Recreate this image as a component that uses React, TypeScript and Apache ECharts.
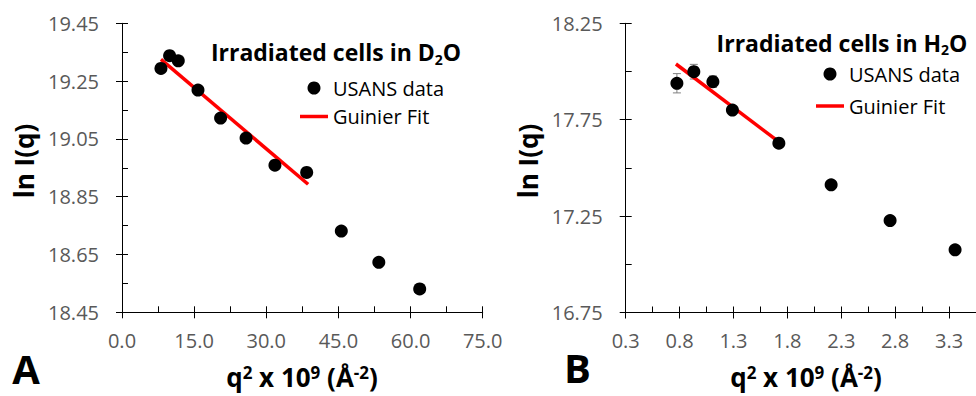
import React, { useEffect, useRef } from "react";
import * as echarts from "echarts";

// Panel A — irradiated cells in D2O
const xA = [8.1, 9.9, 11.7, 15.8, 20.5, 25.8, 31.8, 38.4, 45.6, 53.4, 61.9];
const yA = [19.294, 19.338, 19.32, 19.219, 19.122, 19.053, 18.959, 18.934, 18.731, 18.623, 18.531];
const fitXA = [8.1, 38.7];
const fitYA = [19.325, 18.893];

// Panel B — irradiated cells in H2O
const xB = [0.775, 0.932, 1.109, 1.29, 1.721, 2.206, 2.753, 3.356];
const yB = [17.939, 17.999, 17.947, 17.8, 17.628, 17.412, 17.227, 17.075];
const errB = [0.05, 0.038, 0.03, 0.02, 0.02, 0.02, 0.02, 0.02];
const fitXB = [0.766, 1.688];
const fitYB = [18.039, 17.649];

// Axis ticks and labels
const xLabelsA = [0, 15, 30, 45, 60, 75];
const xTicksA = [0, 7.5, 15, 22.5, 30, 37.5, 45, 52.5, 60, 67.5, 75];
const yLabelsA = [18.45, 18.65, 18.85, 19.05, 19.25, 19.45];
const yTicksA = [18.45, 18.55, 18.65, 18.75, 18.85, 18.95, 19.05, 19.15, 19.25, 19.35, 19.45];
const xLabelsB = [0.3, 0.8, 1.3, 1.8, 2.3, 2.8, 3.3];
const xTicksB = [0.3, 0.55, 0.8, 1.05, 1.3, 1.55, 1.8, 2.05, 2.3, 2.55, 2.8, 3.05, 3.3, 3.55];
const yLabelsB = [16.75, 17.25, 17.75, 18.25];
const yTicksB = [16.75, 17.0, 17.25, 17.5, 17.75, 18.0, 18.25];

const FONT = '"Open Sans", "DejaVu Sans", sans-serif';

function mainAxis(gridIndex: number, min: number, max: number, labels: number[], digits: number, position: string, margin: number) {
  return {
    type: "value",
    gridIndex,
    min,
    max,
    position,
    axisLine: { show: true, onZero: false, lineStyle: { color: "#000", width: 1 } },
    axisTick: { show: true, inside: false, length: 6, customValues: labels, lineStyle: { color: "#000", width: 1 } },
    axisLabel: {
      show: true,
      customValues: labels,
      formatter: (v: number) => v.toFixed(digits),
      margin,
      color: "#595959",
      fontSize: 20,
      fontFamily: FONT,
    },
    splitLine: { show: false },
  };
}

function tickAxis(gridIndex: number, min: number, max: number, ticks: number[], position: string) {
  return {
    type: "value",
    gridIndex,
    min,
    max,
    position,
    axisLine: { show: false, onZero: false },
    axisTick: { show: true, inside: true, length: 6, customValues: ticks, lineStyle: { color: "#000", width: 1 } },
    axisLabel: { show: false },
    splitLine: { show: false },
  };
}

const legendBase = {
  orient: "vertical",
  itemWidth: 28,
  itemHeight: 13,
  padding: 0,
  selectedMode: false,
  textStyle: { fontSize: 20, color: "#000", fontFamily: FONT },
  data: [
    { name: "USANS data", icon: "circle" },
    { name: "Guinier Fit", icon: "path://M0,0L28,0L28,3.5L0,3.5Z" },
  ],
};

const titleRich = {
  b: { fontSize: 23, fontWeight: "bold", fontFamily: FONT, color: "#000", lineHeight: 28, verticalAlign: "middle" },
  s: { fontSize: 14, fontWeight: "bold", fontFamily: FONT, color: "#000", lineHeight: 8, verticalAlign: "bottom" },
};
const axisTitleRich = {
  b: { fontSize: 26, fontWeight: "bold", fontFamily: FONT, color: "#000", lineHeight: 26, verticalAlign: "middle" },
  p: { fontSize: 17, fontWeight: "bold", fontFamily: FONT, color: "#000", lineHeight: 10, verticalAlign: "top" },
};
const xTitle = "{b|q}{p|2}{b| x 10}{p|9}{b| (Å}{p|-2}{b|)}";

export default function App() {
  const ref = useRef<HTMLDivElement>(null);
  useEffect(() => {
    if (!ref.current) return;
    const chart = echarts.init(ref.current, null, { renderer: "svg" });
    const scatterStyle = { color: "#000", opacity: 1 };
    const option: any = {
      animation: false,
      backgroundColor: "#fff",
      textStyle: { fontFamily: FONT },
      grid: [
        { left: 122, top: 23.3, width: 360.7, height: 289 },
        { left: 625.7, top: 23.3, width: 359.8, height: 289.2 },
      ],
      xAxis: [
        mainAxis(0, 0, 75, xLabelsA, 1, "bottom", 18),
        tickAxis(0, 0, 75, xTicksA, "bottom"),
        mainAxis(1, 0.3, 3.55, xLabelsB, 1, "bottom", 18),
        tickAxis(1, 0.3, 3.55, xTicksB, "bottom"),
      ],
      yAxis: [
        mainAxis(0, 18.45, 19.45, yLabelsA, 2, "left", 23),
        tickAxis(0, 18.45, 19.45, yTicksA, "left"),
        mainAxis(1, 16.75, 18.25, yLabelsB, 2, "left", 23),
        tickAxis(1, 16.75, 18.25, yTicksB, "left"),
      ],
      legend: [
        { ...legendBase, left: 300, top: 78, itemGap: 8.5 },
        { ...legendBase, left: 816, top: 64, itemGap: 12 },
      ],
      series: [
        {
          name: "Guinier Fit",
          type: "line",
          xAxisIndex: 0,
          yAxisIndex: 0,
          data: fitXA.map((x, i) => [x, fitYA[i]]),
          symbol: "none",
          lineStyle: { color: "#ff0000", width: 3.5 },
          itemStyle: { color: "#ff0000" },
          z: 2,
        },
        {
          name: "USANS data",
          type: "scatter",
          xAxisIndex: 0,
          yAxisIndex: 0,
          data: xA.map((x, i) => [x, yA[i]]),
          symbol: "circle",
          symbolSize: 13,
          itemStyle: scatterStyle,
          z: 3,
        },
        {
          type: "custom",
          xAxisIndex: 2,
          yAxisIndex: 2,
          data: xB.map((x, i) => [x, yB[i], errB[i]]),
          encode: { x: 0, y: 1 },
          silent: true,
          z: 1,
          renderItem: (params: any, api: any) => {
            const x = api.value(0);
            const y = api.value(1);
            const e = api.value(2);
            const top = api.coord([x, y + e]);
            const bot = api.coord([x, y - e]);
            const style = { stroke: "#7f7f7f", lineWidth: 1 };
            return {
              type: "group",
              children: [
                { type: "line", shape: { x1: top[0], y1: top[1], x2: bot[0], y2: bot[1] }, style },
                { type: "line", shape: { x1: top[0] - 4, y1: top[1], x2: top[0] + 4, y2: top[1] }, style },
                { type: "line", shape: { x1: bot[0] - 4, y1: bot[1], x2: bot[0] + 4, y2: bot[1] }, style },
              ],
            };
          },
        },
        {
          name: "Guinier Fit",
          type: "line",
          xAxisIndex: 2,
          yAxisIndex: 2,
          data: fitXB.map((x, i) => [x, fitYB[i]]),
          symbol: "none",
          lineStyle: { color: "#ff0000", width: 3.5 },
          itemStyle: { color: "#ff0000" },
          z: 2,
        },
        {
          name: "USANS data",
          type: "scatter",
          xAxisIndex: 2,
          yAxisIndex: 2,
          data: xB.map((x, i) => [x, yB[i]]),
          symbol: "circle",
          symbolSize: 13,
          itemStyle: scatterStyle,
          z: 3,
        },
      ],
      graphic: [
        {
          type: "text", x: 336, y: 52,
          style: { text: "{b|Irradiated cells in D}{s|2}{b|O}", rich: titleRich, align: "center", verticalAlign: "middle" },
        },
        {
          type: "text", x: 842, y: 42.5,
          style: { text: "{b|Irradiated cells in H}{s|2}{b|O}", rich: titleRich, align: "center", verticalAlign: "middle" },
        },
        {
          type: "text", x: 23.5, y: 161, rotation: Math.PI / 2,
          style: { text: "ln I(q)", font: `bold 26px ${FONT}`, fill: "#000", align: "center", verticalAlign: "middle" },
        },
        {
          type: "text", x: 528, y: 161, rotation: Math.PI / 2,
          style: { text: "ln I(q)", font: `bold 26px ${FONT}`, fill: "#000", align: "center", verticalAlign: "middle" },
        },
        {
          type: "text", x: 302, y: 377,
          style: { text: xTitle, rich: axisTitleRich, align: "center", verticalAlign: "middle" },
        },
        {
          type: "text", x: 806, y: 377,
          style: { text: xTitle, rich: axisTitleRich, align: "center", verticalAlign: "middle" },
        },
        {
          type: "text", x: 26, y: 368,
          style: { text: "A", font: `bold 40px ${FONT}`, lineHeight: 40, fill: "#000", align: "center", verticalAlign: "middle" },
        },
        {
          type: "text", x: 577.5, y: 367,
          style: { text: "B", font: `bold 40px ${FONT}`, lineHeight: 40, fill: "#000", align: "center", verticalAlign: "middle" },
        },
      ],
    };
    chart.setOption(option);
    return () => chart.dispose();
  }, []);
  return (
    <div
      ref={ref}
      style={{ position: "fixed", left: 0, top: 0, width: 976, height: 396, background: "#fff" }}
    />
  );
}
